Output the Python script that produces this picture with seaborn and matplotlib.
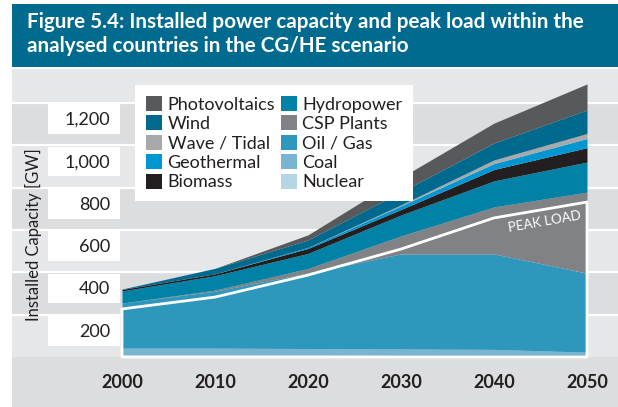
import numpy as np
import pandas as pd
import seaborn as sns
import matplotlib.pyplot as plt
from matplotlib.patches import Rectangle

# installed capacity by source in GW
years = [2000, 2010, 2020, 2030, 2040, 2050]
nuclear = [9, 9, 9, 7, 5, 2]
coal = [33, 33, 31, 31, 31, 21]
oil_gas = [213, 269, 357, 449, 451, 373]
csp = [0, 5, 21, 85, 222, 383]
hydro = [57, 68, 71, 99, 123, 142]
biomass = [7, 9, 24, 26, 54, 68]
geothermal = [0, 0, 5, 17, 28, 43]
wave_tidal = [0, 0, 0, 5, 17, 24]
wind = [2, 26, 35, 61, 80, 111]
photovoltaics = [0, 0, 24, 68, 94, 123]
peak_load = [227, 283, 387, 510, 657, 732]

y_ticks = [200, 400, 600, 800, 1000, 1200]
y_tick_labels = ["200", "400", "600", "800", "1,000", "1,200"]

# bottom -> top stacking order
sources = ["Nuclear", "Coal", "Oil / Gas", "CSP Plants", "Hydropower",
           "Biomass", "Geothermal", "Wave / Tidal", "Wind", "Photovoltaics"]
colors = ["#b4d5e5", "#79b4d1", "#2e97bc", "#808285", "#0081a6",
          "#231f20", "#0096d1", "#a7a9ac", "#006a8e", "#58595b"]

df = pd.DataFrame({"Year": years, "Nuclear": nuclear, "Coal": coal, "Oil / Gas": oil_gas,
                   "CSP Plants": csp, "Hydropower": hydro, "Biomass": biomass,
                   "Geothermal": geothermal, "Wave / Tidal": wave_tidal, "Wind": wind,
                   "Photovoltaics": photovoltaics, "Peak": peak_load})

sns.set_theme(style="white")
plt.rcParams['font.family'] = ['Lato', 'DejaVu Sans']

W, H = 618, 407
fig = plt.figure(figsize=(W / 100, H / 100), dpi=100)
fig.patch.set_facecolor("white")

# title bar
fig.add_artist(Rectangle((12 / W, 1 - 67 / H), 606 / W, 63 / H, transform=fig.transFigure,
                         facecolor="#006a8f", edgecolor="none"))
fig.text(27 / W, 1 - 12 / H, "Figure 5.4: Installed power capacity and peak load within the\n"
         "analysed countries in the CG/HE scenario", color="white", fontsize=14.9,
         fontweight="bold", va="top", ha="left", linespacing=1.22)

px_per_gw = (357 - 103) / 1200.0
ytop = (357 - 69) / px_per_gw
ybot = -(407 - 357) / px_per_gw

# background panel with alternating bands
bg = fig.add_axes([12 / W, 0, 606 / W, 338 / H])
bg.set_xlim(0, 606)
bg.set_ylim(ybot, ytop)
bg.set_axis_off()
light, dark = "#e6e7e9", "#dcdddf"
bg.axhspan(ybot, 0, color=dark, lw=0)
edges = [0] + y_ticks + [ytop]
for i in range(len(edges) - 1):
    bg.axhspan(edges[i], edges[i + 1], color=light if i % 2 == 0 else dark, lw=0)
for v in y_ticks:
    bg.axhline(v, color="white", lw=1.6)
for v, lab in zip(y_ticks, y_tick_labels):
    bg.add_patch(Rectangle((36, v - 140 - 7), 72, 140, facecolor="white", edgecolor="none"))
    bg.text(98, v - 80, lab, ha="right", va="center", fontsize=13, color="#231f20")
bg.text(21, (357 - 235) / px_per_gw, "Installed Capacity [GW]", rotation=90,
        ha="center", va="center", fontsize=12, color="#231f20")

# main chart
ax = fig.add_axes([122 / W, 50 / H, 465 / W, 288 / H])
ax.patch.set_alpha(0)
stacks = ax.stackplot(df["Year"], *[df[s] for s in sources], colors=colors, lw=0)
ax.fill_between(df["Year"], 0, df["Peak"], facecolor="none", edgecolor="white", lw=2, clip_on=False)
ax.text(2045.4, 640, "PEAK LOAD", color="white", fontsize=9.6, rotation=10,
        ha="center", va="center")
ax.set_xlim(2000, 2050)
ax.set_ylim(0, ytop)
ax.set_yticks([])
ax.set_xticks(years)
ax.set_xticklabels([str(y) for y in years], fontweight="bold", fontsize=13, color="#231f20")
ax.tick_params(axis="x", length=0, pad=12)
sns.despine(ax=ax, left=True, bottom=True)

handles = list(reversed(stacks))
labels = list(reversed(sources))
leg = fig.legend(handles, labels, ncol=2, loc="upper left",
                 bbox_to_anchor=(135 / W, 1 - 85 / H), bbox_transform=fig.transFigure,
                 fontsize=13.0, frameon=True, fancybox=False, framealpha=1,
                 handlelength=0.9, handleheight=0.9, handletextpad=0.3,
                 labelspacing=0.15, columnspacing=0.3, borderpad=0.6, borderaxespad=0)
leg.get_frame().set_edgecolor("none")
leg.get_frame().set_facecolor("white")
for t in leg.get_texts():
    t.set_color("#231f20")

fig.savefig("out.png", dpi=100)
